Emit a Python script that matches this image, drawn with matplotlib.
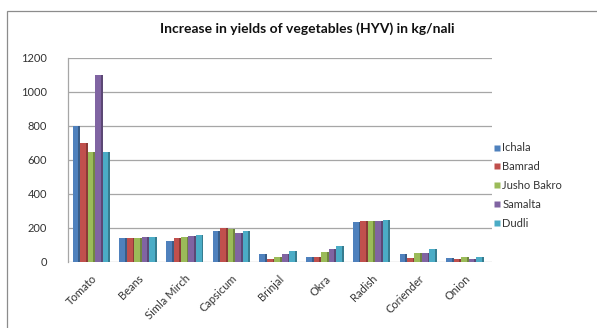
import matplotlib
matplotlib.use("Agg")
import matplotlib.pyplot as plt
import numpy as np
from matplotlib.patches import Rectangle
from matplotlib.lines import Line2D
import matplotlib.colors as mcolors

plt.rcParams["font.family"] = ["Lato", "DejaVu Sans"]

categories = ["Tomato", "Beans", "Simla Mirch", "Capsicum", "Brinjal", "Okra", "Radish", "Coriender", "Onion"]
series_names = ["Ichala", "Bamrad", "Jusho Bakro", "Samalta", "Dudli"]
ichala = [800, 140, 125, 180, 50, 30, 235, 50, 25]
bamrad = [700, 140, 140, 200, 20, 30, 240, 25, 20]
jusho_bakro = [650, 140, 150, 195, 30, 60, 240, 55, 30]
samalta = [1100, 150, 155, 170, 50, 75, 240, 55, 20]
dudli = [650, 150, 160, 185, 65, 95, 250, 75, 30]
series = [ichala, bamrad, jusho_bakro, samalta, dudli]
colors = ["#4F81BD", "#C0504D", "#9BBB59", "#8064A2", "#4BACC6"]
yticks = [0, 200, 400, 600, 800, 1000, 1200]

W, H = 597, 328
fig = plt.figure(figsize=(W / 100, H / 100), dpi=100)
fig.patch.set_facecolor("white")

# outer chart border
fig.add_artist(Rectangle((7 / W, -0.1), 1.2, 1 - 11 / H + 0.1, transform=fig.transFigure,
                         fill=False, edgecolor="#8c8c8c", linewidth=0.9))

left, right = 68 / W, 492 / W
bottom, top = 1 - 262 / H, 1 - 58 / H
ax = fig.add_axes([left, bottom, right - left, top - bottom])
ax.set_xlim(-0.5, 8.58)
ax.set_ylim(0, 1200)

for s in ["top", "right", "bottom"]:
    ax.spines[s].set_visible(False)
ax.spines["left"].set_color("#a6a6a6")
ax.spines["left"].set_linewidth(0.9)

for yv in yticks:
    ax.axhline(yv, color="#a6a6a6", linewidth=0.9, zorder=0)

x = np.arange(len(categories))
group = 0.8
bw = group / len(series)
for i, (vals, c) in enumerate(zip(series, colors)):
    pos = x - group / 2 + bw * (i + 0.5)
    dark = tuple(v * 0.72 for v in mcolors.to_rgb(c))
    ax.bar(pos, vals, width=bw, color=c, edgecolor="none", zorder=3)
    ax.bar(pos + bw * 0.38, vals, width=bw * 0.24, color=dark, edgecolor="none", zorder=3)

ax.set_yticks(yticks)
ax.set_yticklabels([str(v) for v in yticks], fontsize=8, color="#333333")
ax.tick_params(axis="y", length=0, pad=15)
ax.set_xticks(x)
ax.set_xticklabels(categories, rotation=45, ha="right", rotation_mode="anchor",
                   fontsize=8, color="#333333")
ax.tick_params(axis="x", length=0, pad=8)

fig.text(0.515, 1 - 29 / H, "Increase in yields of vegetables (HYV) in kg/nali",
         ha="center", va="center", fontsize=10, fontweight="bold", color="#111111")

handles = [Line2D([0], [0], marker="s", linestyle="none", markersize=5,
                  markerfacecolor=c, markeredgecolor="none") for c in colors]
fig.legend(handles, series_names, loc="upper left", bbox_to_anchor=(488 / W, 1 - 138 / H),
           frameon=False, fontsize=8, handletextpad=0.1, labelspacing=0.7,
           handlelength=0.8, borderaxespad=0, labelcolor="#333333")

fig.savefig("out.png", dpi=100, facecolor="white")
